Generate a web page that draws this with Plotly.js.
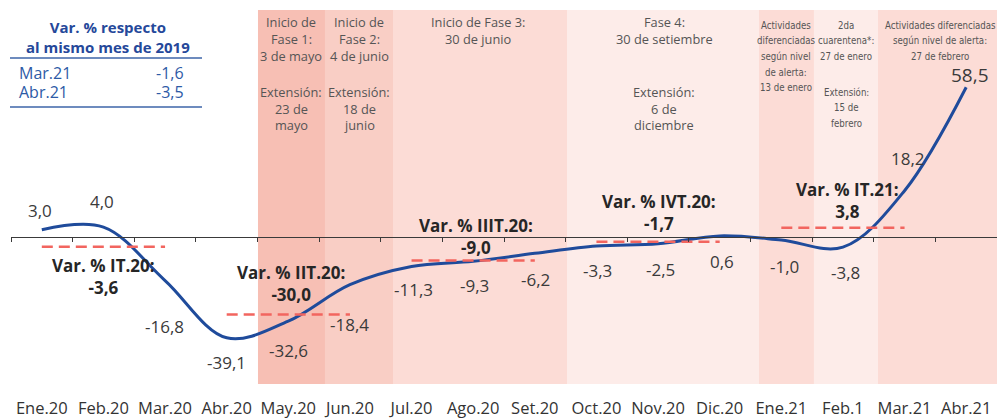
<!DOCTYPE html>
<html><head><meta charset="utf-8">
<script src="https://cdn.plot.ly/plotly-3.0.1.min.js"></script>
<style>html,body{margin:0;padding:0;background:#fff}#chart{width:997px;height:418px}</style>
</head><body><div id="chart"></div>
<script>
// ---- data ----
const months = ['Ene.20','Feb.20','Mar.20','Abr.20','May.20','Jun.20','Jul.20','Ago.20','Set.20','Oct.20','Nov.20','Dic.20','Ene.21','Feb.1','Mar.21','Abr.21'];
const values = [3.0, 4.0, -16.8, -39.1, -32.6, -18.4, -11.3, -9.3, -6.2, -3.3, -2.5, 0.6, -1.0, -3.8, 18.2, 58.5];

const quarterNames  = ['IT.20','IIT.20','IIIT.20','IVT.20','IT.21'];
const quarterValues = [-3.6, -30.0, -9.0, -1.7, 3.8];
const quarterStart  = ['Ene.20','Abr.20','Jul.20','Oct.20','Ene.21'];
const quarterEnd    = ['Mar.20','Jun.20','Set.20','Dic.20','Mar.21'];
const quarterMid    = ['Feb.20','May.20','Ago.20','Nov.20','Feb.1'];

const tableTitle = 'Var. % respecto<br>al mismo mes de 2019';
const tableLabels = ['Mar.21','Abr.21'];
const tableValues = [-1.6, -3.5];

const phaseTexts = [
  'Inicio de<br>Fase 1:<br>3 de mayo', 'Extensión:<br>23 de<br>mayo',
  'Inicio de<br>Fase 2:<br>4 de junio', 'Extensión:<br>18 de<br>junio',
  'Inicio de Fase 3:<br>30 de junio',
  'Fase 4:<br>30 de setiembre', 'Extensión:<br>6 de<br>diciembre',
  'Actividades<br>diferenciadas<br>según nivel<br>de alerta:<br>13 de enero',
  '2da<br>cuarentena*:<br>27 de enero', 'Extensión:<br>15 de<br>febrero',
  'Actividades diferenciadas<br>según nivel de alerta:<br>27 de febrero'
];

// ---- layout helpers (positions/styles) ----
const W = 997, H = 418, ML = 11, MR = 0, MT = 10, MB = 34;
const yRange = [-57.1, 88.6];
const px2paperX = px => (px - ML) / (W - ML - MR);
const px2paperY = py => (H - MB - py) / (H - MB - MT);
const fmt = v => v.toFixed(1).replace('.', ',');

const labelOffsets = [[-2,19],[-1,26],[-1,-46],[0,-25],[0,-29],[0,-40],[1.5,-23],[1,-24],[1,-26],[1.5,-24.5],[2,-25.6],[2,-25.5],[3,-26],[3,-25],[3.5,32],[4,12]];
const labelSizes = values.map((v,i)=> i === values.length-1 ? 19 : 17);
const quarterShifts = [[0,-29.5],[3,31],[3,23.6],[1,29],[5,26.7]];

const regionBounds = [3.508, 4.595, 5.699, 8.522, 11.638, 12.53, 13.569, 15.5];
const regionColors = ['#f7bfb4','#f9cec5','#fcdcd6','#fdece9','#fcdcd6','#fdece9','#fcdcd6'];

// phase text placement: [center px x, first-line px y, line spacing, narrow?]
const phasePos = [
  [291,22,17,0],[291,92,16.5,0],[359,22,17,0],[359,92,16.5,0],[478,22,17,0],[664,22,17,0],[664,92,16.5,0],
  [786,25,15.7,1],[846,25,15.5,1],[846,92.5,15.3,1],[940,25,15.5,1]
];

const textFont = 'Open Sans, Noto Sans, sans-serif';
const narrowFont = 'Liberation Sans Narrow, DejaVu Sans Condensed, Roboto Condensed, sans-serif';

// ---- traces ----
const traces = [{
  x: months, y: values, xaxis: 'x', yaxis: 'y', type: 'scatter', mode: 'lines',
  line: {color: '#1f4b9b', width: 3, shape: 'spline', smoothing: 1},
  hoverinfo: 'skip', showlegend: false
}];
quarterNames.forEach((q, i) => {
  traces.push({
    x: [quarterStart[i], quarterEnd[i]], y: [quarterValues[i], quarterValues[i]],
    xaxis: 'x2', yaxis: 'y', type: 'scatter', mode: 'lines',
    line: {color: '#f2655f', width: 2.5, dash: '11px,6px'},
    hoverinfo: 'skip', showlegend: false
  });
});

// ---- shapes ----
const shapes = [];
for (let i = 0; i < regionColors.length; i++) {
  shapes.push({type: 'rect', xref: 'x', yref: 'paper', x0: regionBounds[i], x1: regionBounds[i+1], y0: 0, y1: 1,
    fillcolor: regionColors[i], line: {width: 0}, layer: 'below'});
}
[58, 107].forEach(py => shapes.push({type: 'line', xref: 'paper', yref: 'paper',
  x0: px2paperX(10), x1: px2paperX(202), y0: px2paperY(py), y1: px2paperY(py),
  line: {color: '#3d64a8', width: 1.5}}));

// ---- annotations ----
const annotations = [];
values.forEach((v, i) => {
  annotations.push({x: months[i], y: v, xref: 'x', yref: 'y', text: fmt(v), showarrow: false,
    xshift: labelOffsets[i][0], yshift: labelOffsets[i][1],
    font: {family: textFont, size: labelSizes[i], color: '#3a3a3a'}});
});
quarterNames.forEach((q, i) => {
  annotations.push({x: quarterMid[i], y: quarterValues[i], xref: 'x', yref: 'y',
    text: '<b>Var. % ' + q + ':<br>' + fmt(quarterValues[i]) + '</b>', showarrow: false,
    xshift: quarterShifts[i][0], yshift: quarterShifts[i][1],
    font: {family: textFont, size: 17, color: '#262626'}});
});
phaseTexts.forEach((t, i) => {
  const p = phasePos[i];
  t.split('<br>').forEach((line, k) => {
    annotations.push({x: px2paperX(p[0]), y: px2paperY(p[1] + k * p[2]), xref: 'paper', yref: 'paper',
      text: line, showarrow: false, xanchor: 'center', yanchor: 'middle', borderpad: 0,
      font: p[3] ? {family: narrowFont, size: 9.6, color: '#555'} : {family: textFont, size: 12.8, color: '#555'}});
  });
});
annotations.push({x: px2paperX(108), y: px2paperY(37), xref: 'paper', yref: 'paper', text: '<b>' + tableTitle + '</b>',
  showarrow: false, xanchor: 'center', yanchor: 'middle', font: {family: textFont, size: 15, color: '#25489a'}});
tableLabels.forEach((l, i) => {
  const py = 73 + i * 19;
  annotations.push({x: px2paperX(18), y: px2paperY(py), xref: 'paper', yref: 'paper', text: l, showarrow: false,
    xanchor: 'left', yanchor: 'middle', borderpad: 0, font: {family: textFont, size: 16, color: '#2d5aa6'}});
  annotations.push({x: px2paperX(185), y: px2paperY(py), xref: 'paper', yref: 'paper', text: fmt(tableValues[i]), showarrow: false,
    xanchor: 'right', yanchor: 'middle', borderpad: 0, font: {family: textFont, size: 16, color: '#2d5aa6'}});
});

const layout = {
  width: W, height: H, margin: {l: ML, r: MR, t: MT, b: MB, pad: 0},
  paper_bgcolor: '#fff', plot_bgcolor: 'rgba(0,0,0,0)', showlegend: false, hovermode: false,
  xaxis: {type: 'category', categoryarray: months, categoryorder: 'array', range: [-0.5, 15.5],
    showline: false, ticks: '', showgrid: false, zeroline: false, ticklabelstandoff: 12,
    tickfont: {family: textFont, size: 16.5, color: '#333'}, fixedrange: true},
  xaxis2: {type: 'category', categoryarray: months, categoryorder: 'array', range: [-0.5, 15.5],
    overlaying: 'x', anchor: 'free', position: -yRange[0] / (yRange[1] - yRange[0]), side: 'bottom',
    showline: true, linecolor: '#3a3a3a', linewidth: 1, ticks: 'outside', ticklen: 4, tickwidth: 1,
    tickcolor: '#3a3a3a', tickson: 'boundaries', showticklabels: false, showgrid: false, zeroline: false, fixedrange: true},
  yaxis: {range: yRange, showgrid: false, zeroline: false, showticklabels: false, showline: false, ticks: '', fixedrange: true},
  shapes: shapes, annotations: annotations
};

Plotly.newPlot('chart', traces, layout, {staticPlot: true, displayModeBar: false});
</script>
</body></html>
